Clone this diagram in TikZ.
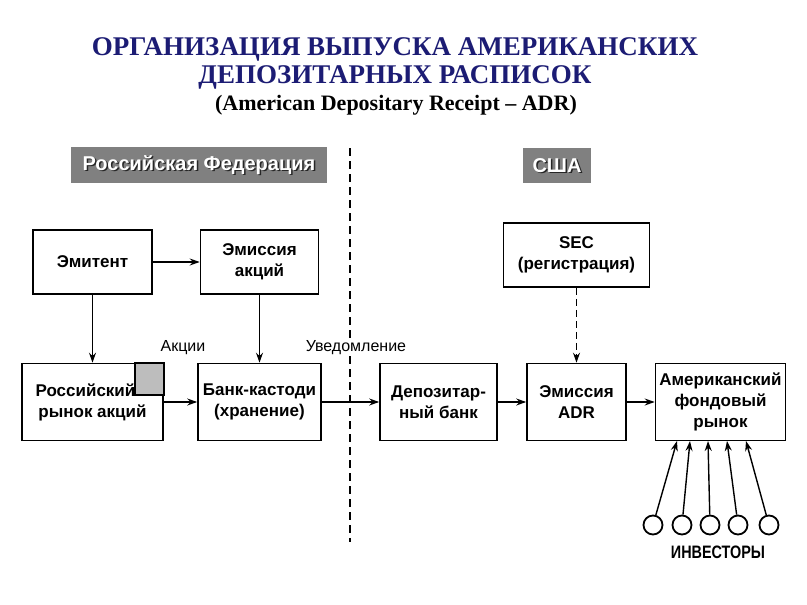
\documentclass[tikz,border=0pt]{standalone}
\usepackage{fontspec}
\setmainfont{Liberation Sans}
\newfontfamily\titlefont{Liberation Serif}
\usetikzlibrary{arrows.meta}

\newcommand{\shadowlabel}[3]{%
  \node[text=black!85, font=\fontsize{20}{22}\selectfont\bfseries] at ([xshift=1.5pt,yshift=-1.5pt]#1) {#3};
  \node[text=white, font=\fontsize{20}{22}\selectfont\bfseries] (#2) at (#1) {#3};
}

\begin{document}
\begin{tikzpicture}[x=1pt,y=-1pt,
    box/.style={draw, line width=1.6pt, fill=white, inner sep=0pt, align=center,
      font=\fontsize{17}{21}\selectfont\bfseries},
    arr/.style={line width=1.4pt, -{Stealth[length=10pt,width=7pt]}},
    lbl/.style={fill=white, inner sep=1pt, font=\fontsize{16}{19}\selectfont},
    region/.style={fill=regiongray, inner sep=0pt},
    investor/.style={draw, circle, line width=1.8pt, minimum size=19pt, inner sep=0pt},
    border/.style={line width=1.4pt, dash pattern=on 8pt off 5pt}]
  \definecolor{titleblue}{HTML}{1C1C74}
  \definecolor{regiongray}{HTML}{808080}
  \definecolor{cornergray}{HTML}{BDBDBD}
  \useasboundingbox[fill=white] (0,0) rectangle (807,605);

  \node[anchor=base, text=titleblue, font=\titlefont\fontsize{27}{30}\selectfont\bfseries] (title1) at (395,55) {ОРГАНИЗАЦИЯ ВЫПУСКА АМЕРИКАНСКИХ};
  \node[anchor=base, text=titleblue, font=\titlefont\fontsize{27}{30}\selectfont\bfseries] (title2) at (395,83) {ДЕПОЗИТАРНЫХ РАСПИСОК};
  \node[anchor=base, font=\titlefont\fontsize{22}{26}\selectfont\bfseries] (title3) at (396,110) {(American Depositary Receipt – ADR)};

  \node[region, minimum width=256pt, minimum height=36pt] (rf) at (199,165) {};
  \shadowlabel{rf}{rftext}{Российская Федерация}
  \node[region, minimum width=68pt, minimum height=35pt] (usa) at (557,165.5) {};
  \shadowlabel{usa}{usatext}{США}

  \coordinate (bordertop) at (350,148);
  \coordinate (borderbottom) at (350,542);
  \draw[border] (bordertop) -- (borderbottom);

  \node[box, minimum width=119pt, minimum height=64pt] (emitent) at (92.5,262) {Эмитент};
  \node[box, minimum width=118pt, minimum height=64pt] (emissia) at (259.5,262) {Эмиссия\\акций};
  \node[box, minimum width=146pt, minimum height=64pt] (sec) at (576.5,255) {SEC\\(регистрация)};

  \node[box, minimum width=141pt, minimum height=77pt] (rynok) at (92.5,402) {Российский\hspace*{14pt}\\рынок акций};
  \draw[line width=1.6pt, fill=cornergray] (rynok.north east) rectangle ++(-29,32);
  \node[box, minimum width=123pt, minimum height=77pt] (bank) at (259.5,402) {Банк-кастоди\\(хранение)};
  \node[box, minimum width=117pt, minimum height=77pt] (depo) at (438.5,402) {Депозитар-\\ный банк};
  \node[box, minimum width=99pt, minimum height=77pt] (adr) at (576.5,402) {Эмиссия\\ADR};
  \node[box, minimum width=130pt, minimum height=77pt] (market) at (720.5,402) {Американский\\фондовый\\рынок};

  \node[lbl] (akcii) at (183,348) {Акции};
  \node[lbl] (uved) at (356,348) {Уведомление};

  \draw[arr] (emitent) -- (emissia);
  \draw[arr] (emitent) -- (rynok);
  \draw[arr] (emissia) -- (bank);
  \draw[arr] (rynok) -- (bank);
  \draw[arr] (bank) -- (depo);
  \draw[arr] (depo) -- (adr);
  \draw[arr] (adr) -- (market);
  \draw[arr, dash pattern=on 7pt off 4pt] (sec) -- (adr);

  \foreach \i/\cx/\tx in {1/653/677, 2/682/690, 3/710/708, 4/738/727, 5/769/746} {
    \node[investor] (inv\i) at (\cx,525) {};
    \coordinate (entry\i) at (\tx,441);
    \draw[arr] (inv\i) -- (entry\i);
  }
  \node[font=\fontsize{18}{20}\selectfont\bfseries] (investors) at (718,552) {\scalebox{0.8}[1]{ИНВЕСТОРЫ}};
\end{tikzpicture}
\end{document}
